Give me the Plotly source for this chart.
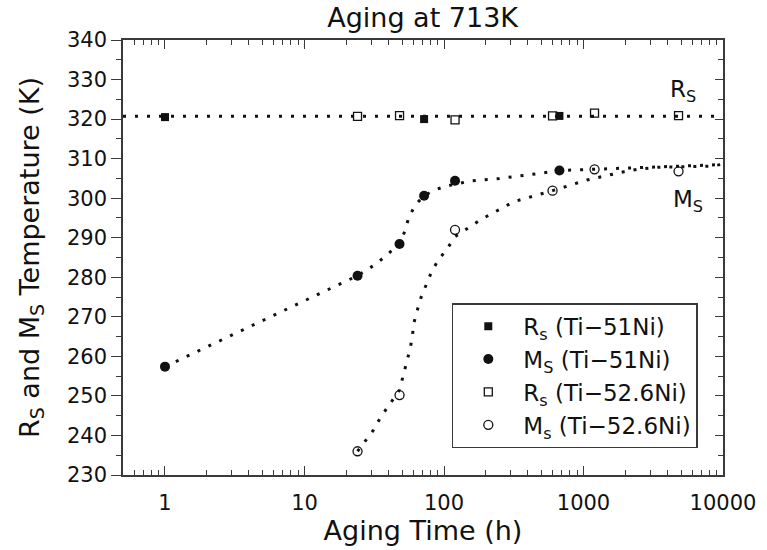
import plotly.graph_objects as go
import math

# ---- data ----
# Ti-51Ni
rs51_t = [1, 72, 672]
rs51_T = [320.5, 320.0, 320.8]
ms51_t = [1, 24, 48, 72, 120, 672]
ms51_T = [257.4, 280.4, 288.4, 300.6, 304.4, 307.0]
# Ti-52.6Ni
rs526_t = [24, 48, 120, 600, 1200, 4800]
rs526_T = [320.7, 320.9, 319.8, 320.8, 321.5, 320.9]
ms526_t = [24, 48, 120, 600, 1200, 4800]
ms526_T = [236.0, 250.2, 292.0, 301.9, 307.3, 306.8]

# dotted guide curves
rs_fit_t = [0.5, 10000]
rs_fit_T = [320.7, 320.7]
ms51_fit_t = [1, 24, 33, 40, 48, 53, 56, 63, 72, 86, 105, 158, 250, 490, 670, 1660, 3000, 10000]
ms51_fit_T = [257.4, 280.4, 283.5, 286.1, 288.4, 292.1, 295.3, 298.5, 300.6, 302.1, 303.1,
              304.4, 305.0, 306.3, 307.0, 307.5, 307.8, 308.5]
ms526_fit_t = [24, 31, 35, 40, 48, 52, 55, 57.5, 59.4, 61, 65, 69, 75, 81, 91, 105, 120,
               154, 186, 316, 600, 1060, 1515, 1950, 2430, 3390, 8180, 10000]
ms526_fit_T = [236.0, 241.2, 244.5, 247.5, 251.5, 256.3, 259.3, 262.3, 265.4, 268.6, 272.2,
               275.3, 278.3, 281.2, 284.4, 287.1, 290.3, 292.8, 294.7, 299.1, 301.9, 304.6,
               305.9, 306.7, 307.3, 307.8, 308.1, 308.6]

x_ticks = [1, 10, 100, 1000, 10000]
x_tick_text = ["1", "10", "100", "1000", "10000"]
y_range = [230, 340]
x_range_h = [0.5, 10000]

FONT = "DejaVu Sans"
INK = "#111111"
AX = "#3a3a3a"

fig = go.Figure()

dot = dict(color=INK, width=3, dash="3px,9px")
for t, T in [(rs_fit_t, rs_fit_T), (ms51_fit_t, ms51_fit_T), (ms526_fit_t, ms526_fit_T)]:
    fig.add_trace(go.Scatter(x=t, y=T, mode="lines", line=dot, showlegend=False, hoverinfo="skip"))

fig.add_trace(go.Scatter(x=rs51_t, y=rs51_T, mode="markers", name="R<sub>s</sub> (Ti−51Ni)",
                         legendgroup="a",
                         marker=dict(symbol="square", size=8, color=INK, line=dict(width=0))))
fig.add_trace(go.Scatter(x=ms51_t, y=ms51_T, mode="markers", name="M<sub>S</sub> (Ti−51Ni)",
                         legendgroup="b",
                         marker=dict(symbol="circle", size=10, color=INK, line=dict(width=0))))
fig.add_trace(go.Scatter(x=rs526_t, y=rs526_T, mode="markers", name="R<sub>s</sub> (Ti−52.6Ni)",
                         legendgroup="c",
                         marker=dict(symbol="square-open", size=8, color=INK, line=dict(width=1.3))))
fig.add_trace(go.Scatter(x=ms526_t, y=ms526_T, mode="markers", name="M<sub>s</sub> (Ti−52.6Ni)",
                         legendgroup="d",
                         marker=dict(symbol="circle-open", size=9, color=INK, line=dict(width=1.3))))

# invisible trace to anchor the right-hand y axis
fig.add_trace(go.Scatter(x=[1], y=[300], yaxis="y2", mode="markers", marker=dict(opacity=0),
                         showlegend=False, hoverinfo="skip"))

fig.add_annotation(x=math.log10(5200), y=327.0, text="R<sub>S</sub>", showarrow=False,
                   font=dict(family=FONT, size=23, color=INK))
fig.add_annotation(x=math.log10(5600), y=299.3, text="M<sub>S</sub>", showarrow=False,
                   font=dict(family=FONT, size=23, color=INK))

fig.update_layout(
    width=767, height=550,
    margin=dict(l=123, r=44, t=40, b=75, autoexpand=False),
    paper_bgcolor="white", plot_bgcolor="white",
    font=dict(family=FONT, color=INK, size=20),
    title=dict(text="Aging at 713K", x=0.551, xanchor="center", y=1 - 18 / 550,
               yanchor="middle", font=dict(family=FONT, size=27, color=INK)),
    showlegend=True,
    legend=dict(x=0.548, y=0.395, xanchor="left", yanchor="top",
                bordercolor=AX, borderwidth=1.5, bgcolor="white",
                font=dict(family=FONT, size=23, color=INK), tracegroupgap=5,
                itemwidth=60, traceorder="normal"),
    xaxis=dict(type="log", range=[math.log10(x_range_h[0]), math.log10(x_range_h[1])],
               tickvals=x_ticks, ticktext=x_tick_text, automargin=False,
               ticks="inside", ticklen=9, tickwidth=1.3, tickcolor=AX,
               showline=True, linecolor=AX, linewidth=1.5, mirror="ticks",
               showgrid=False, zeroline=False,
               minor=dict(ticks="inside", ticklen=5, tickwidth=1.1, tickcolor=AX, dtick="D1", showgrid=False),
               tickfont=dict(family=FONT, size=21, color=INK), ticklabelstandoff=8,
               title=dict(text="Aging Time (h)", font=dict(family=FONT, size=27, color=INK), standoff=7)),
    yaxis=dict(range=y_range, dtick=10, tick0=230, automargin=False,
               ticks="outside", ticklen=10, tickwidth=1.3, tickcolor=AX,
               showline=True, linecolor=AX, linewidth=1.5, mirror=True,
               showgrid=False, zeroline=False,
               minor=dict(ticks="outside", ticklen=5, tickwidth=1.1, tickcolor=AX, dtick=5, tick0=230, showgrid=False),
               tickfont=dict(family=FONT, size=21, color=INK),
               title=dict(text="R<sub>S</sub> and M<sub>S</sub> Temperature (K)",
                          font=dict(family=FONT, size=27, color=INK), standoff=20)),
    yaxis2=dict(range=y_range, dtick=10, tick0=230, overlaying="y", side="right", anchor="x",
                ticks="inside", ticklen=8, tickwidth=1.3, tickcolor=AX, automargin=False,
                showline=False, showgrid=False, zeroline=False, showticklabels=False,
                minor=dict(ticks="inside", ticklen=5, tickwidth=1.1, tickcolor=AX, dtick=5, tick0=230, showgrid=False)),
)

fig.write_html("out.html", config={"displayModeBar": False},
               post_script="document.body.style.margin='0';document.body.style.overflow='hidden';")
